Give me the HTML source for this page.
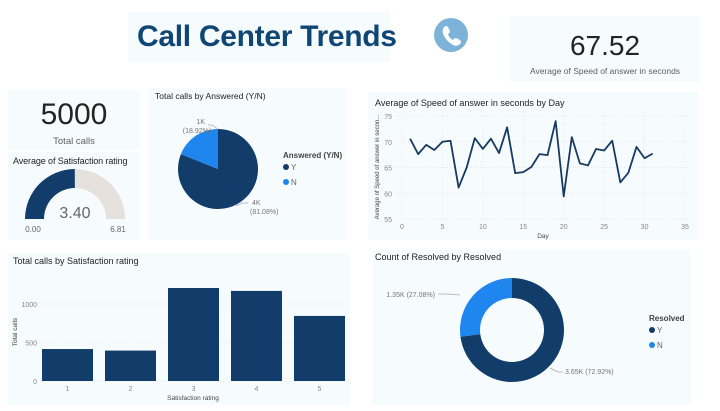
<!DOCTYPE html>
<html><head><meta charset="utf-8"><style>
body{margin:0;width:720px;height:411px;background:#fff;font-family:"Liberation Sans",sans-serif;overflow:hidden;position:relative}
.p{position:absolute;background:#f6fbfd}
.t{position:absolute;font-size:9px;color:#252423;white-space:nowrap}
svg{position:absolute;left:0;top:0}
</style></head><body>
<div class="p" style="left:128px;top:12px;width:262px;height:50px"></div>
<div style="position:absolute;left:137px;top:20px;font-size:30px;font-weight:bold;color:#0f4675;white-space:nowrap;letter-spacing:-0.3px">Call Center Trends</div>
<div class="p" style="left:510px;top:16px;width:190px;height:66px"></div>
<div style="position:absolute;left:510px;width:190px;top:30px;text-align:center;font-size:28px;color:#252423">67.52</div>
<div style="position:absolute;left:510px;width:190px;top:66px;text-align:center;font-size:8.5px;color:#605e5c">Average of Speed of answer in seconds</div>
<div class="p" style="left:8px;top:90px;width:132px;height:60px"></div>
<div style="position:absolute;left:8px;width:132px;top:98px;text-align:center;font-size:30px;color:#252423">5000</div>
<div style="position:absolute;left:8px;width:132px;top:136px;text-align:center;font-size:9.5px;color:#605e5c">Total calls</div>
<div class="p" style="left:8px;top:152px;width:132px;height:88px"></div>
<div class="t" style="left:13px;top:156px;font-size:9px;letter-spacing:-0.1px">Average of Satisfaction rating</div>
<div class="p" style="left:148px;top:88px;width:198px;height:152px"></div>
<div class="t" style="left:155px;top:91px;font-size:8.5px">Total calls by Answered (Y/N)</div>
<div class="p" style="left:368px;top:92px;width:330px;height:148px"></div>
<div class="t" style="left:375px;top:98px">Average of Speed of answer in seconds by Day</div>
<div class="p" style="left:8px;top:253px;width:342px;height:152px"></div>
<div class="t" style="left:13px;top:256px">Total calls by Satisfaction rating</div>
<div class="p" style="left:373px;top:250px;width:318px;height:155px"></div>
<div class="t" style="left:375px;top:252px">Count of Resolved by Resolved</div>
<svg id="s" width="720" height="411" font-family="Liberation Sans, sans-serif"></svg>
<script>
const days=[1,2,3,4,5,6,7,8,9,10,11,12,13,14,15,16,17,18,19,20,21,22,23,24,25,26,27,28,29,30,31];
const speed=[70.6,67.6,69.4,68.4,70,70.2,61.1,65,70.7,68.6,70.6,67.8,72.8,63.9,64.1,65.1,67.6,67.4,74,59.4,70.9,65.8,65.4,68.6,68.3,70.2,62.1,64,69,66.8,67.7];
const xTicks=[0,5,10,15,20,25,30,35];
const yTicks=[55,60,65,70,75];
const ratings=["1","2","3","4","5"];
const ratingCalls=[415,395,1208,1170,845];
const barTicks=[0,500,1000];
const answeredLabels=["Y","N"];
const answeredVals=[4054,946];
const resolvedLabels=["Y","N"];
const resolvedVals=[3646,1354];
const gaugeVal=3.40, gaugeMax=6.81;
const S=document.getElementById('s'),NS='http://www.w3.org/2000/svg';
function mk(tag,a,txt){const e=document.createElementNS(NS,tag);for(const k in a)e.setAttribute(k,a[k]);if(txt!==undefined)e.textContent=txt;S.appendChild(e);return e;}
const dark='#123c69',light='#1f86f0';
let c=mk('circle',{cx:451,cy:35,r:17,fill:'#7db2d9'});


let ph=mk('path',{d:'M444,27 q2,-2 4,0 l2,4 q0,2 -2,3 q1,4 5,6 q1,-2 3,-2 l4,2 q2,2 0,4 q-3,3 -7,1 q-7,-4 -10,-11 q-1,-4 1,-7z',fill:'#fff'});


function arcPath(cx,cy,R,r,a0,a1){const p=(rad,a)=>[cx+rad*Math.cos(a),cy-rad*Math.sin(a)];const [x0,y0]=p(R,a0),[x1,y1]=p(R,a1),[x2,y2]=p(r,a1),[x3,y3]=p(r,a0);const lg=Math.abs(a1-a0)>Math.PI?1:0;const sw=a1<a0?1:0;return `M${x0},${y0}A${R},${R} 0 ${lg} ${sw} ${x1},${y1}L${x2},${y2}A${r},${r} 0 ${lg} ${1-sw} ${x3},${y3}Z`;}
const gcx=75,gcy=219,gR=50,gr=31;
const ga=Math.PI-Math.PI*gaugeVal/gaugeMax;
let g1=mk('path',{d:arcPath(gcx,gcy,gR,gr,Math.PI,ga),fill:dark});


let g2=mk('path',{d:arcPath(gcx,gcy,gR,gr,ga,0),fill:'#e6e1dc'});


let gt=mk('text',{x:gcx,y:218,'text-anchor':'middle','font-size':16,fill:'#666'},gaugeVal.toFixed(2));


let gmin=mk('text',{x:33,y:232,'text-anchor':'middle','font-size':8,fill:'#666'},'0.00');


let gmax=mk('text',{x:118,y:232,'text-anchor':'middle','font-size':8,fill:'#666'},gaugeMax.toFixed(2));


function pie(cx,cy,R,r,labels,vals,cols,name){const tot=vals.reduce((a,b)=>a+b,0);let a=Math.PI/2;vals.forEach((v,i)=>{const sweep=2*Math.PI*v/tot;const a1=a-sweep;let d;if(r===0){const p0=[cx+R*Math.cos(a),cy-R*Math.sin(a)],p1=[cx+R*Math.cos(a1),cy-R*Math.sin(a1)];d=`M${cx},${cy}L${p0}A${R},${R} 0 ${sweep>Math.PI?1:0} 1 ${p1}Z`;}else d=arcPath(cx,cy,R,r,a,a1);const e=mk('path',{d:d,fill:cols[i]});a=a1;});return tot;}
const ptot=pie(218,169,40,0,answeredLabels,answeredVals,[dark,light],'answered');
const small={'font-size':7,fill:'#777'};
mk('path',{d:'M218,129 L212,125 L208,125',fill:'none',stroke:'#aaa','stroke-width':0.7});
mk('text',Object.assign({x:205,y:124,'text-anchor':'end'},small),(answeredVals[1]/1000).toFixed(0)+'K');
mk('text',Object.assign({x:197,y:133,'text-anchor':'middle'},small),'('+(answeredVals[1]/ptot*100).toFixed(2)+'%)');
mk('path',{d:'M236,206 L242,203 L248,203',fill:'none',stroke:'#aaa','stroke-width':0.7});
mk('text',Object.assign({x:252,y:205},small),(answeredVals[0]/1000).toFixed(0)+'K');
mk('text',Object.assign({x:250,y:214},small),'('+(answeredVals[0]/ptot*100).toFixed(2)+'%)');
function legend(x,y,title,labels,cols,nm){const t=mk('text',{x:x,y:y,'font-size':8,'font-weight':'bold',fill:'#444'},title);labels.forEach((l,i)=>{mk('circle',{cx:x+3,cy:y+12+i*15-3,r:3,fill:cols[i]});const e=mk('text',{x:x+8,y:y+12+i*15,'font-size':8,fill:'#666'},l);});}
legend(283,158,'Answered (Y/N)',answeredLabels,[dark,light],'answered');
const dtot=pie(512,330,52,32,resolvedLabels,resolvedVals,[dark,light],'resolved');
mk('path',{d:'M460,295 L448,294 L438,294',fill:'none',stroke:'#aaa','stroke-width':0.7});
mk('text',Object.assign({x:435,y:297,'text-anchor':'end'},small),(resolvedVals[1]/1000).toFixed(2)+'K ('+(resolvedVals[1]/dtot*100).toFixed(2)+'%)');
mk('path',{d:'M550,368 L558,372 L563,372',fill:'none',stroke:'#aaa','stroke-width':0.7});
mk('text',Object.assign({x:565,y:374},small),(resolvedVals[0]/1000).toFixed(2)+'K ('+(resolvedVals[0]/dtot*100).toFixed(2)+'%)');
legend(649,321,'Resolved',resolvedLabels,[dark,light],'resolved');
const lx=d=>402+d*(685-402)/35, ly=v=>219-(v-55)*(219-116)/20;
yTicks.forEach(v=>{mk('line',{x1:396,x2:690,y1:ly(v),y2:ly(v),stroke:'#e4e8ea','stroke-dasharray':'1,2'});mk('text',{x:392,y:ly(v)+3,'text-anchor':'end','font-size':7,fill:'#888'},v);});
xTicks.forEach(v=>{mk('line',{x1:lx(v),x2:lx(v),y1:116,y2:219,stroke:'#e4e8ea','stroke-dasharray':'1,2'});mk('text',{x:lx(v),y:229,'text-anchor':'middle','font-size':7,fill:'#888'},v);});
let pl=mk('polyline',{points:days.map((d,i)=>lx(d)+','+ly(speed[i])).join(' '),fill:'none',stroke:'#173a63','stroke-width':1.8,'stroke-linejoin':'round'});


mk('text',{x:543,y:238,'text-anchor':'middle','font-size':6.5,fill:'#444'},'Day');
mk('text',{x:379,y:167,'text-anchor':'middle','font-size':6,fill:'#444',transform:'rotate(-90 379 167)'},'Average of Speed of answer in secon...');
const by=v=>381-v*(381-304)/1000, bw=51, bx=i=>42+i*63;
barTicks.forEach(v=>{mk('line',{x1:40,x2:346,y1:by(v),y2:by(v),stroke:'#e4e8ea','stroke-dasharray':'1,2'});mk('text',{x:37,y:by(v)+3,'text-anchor':'end','font-size':7,fill:'#888'},v);});
ratings.forEach((r,i)=>{const b=mk('rect',{x:bx(i),y:by(ratingCalls[i]),width:bw,height:by(0)-by(ratingCalls[i]),fill:'#123c69'});mk('text',{x:bx(i)+bw/2,y:391,'text-anchor':'middle','font-size':7,fill:'#888'},r);});
mk('text',{x:193,y:400,'text-anchor':'middle','font-size':6.5,fill:'#444'},'Satisfaction rating');
mk('text',{x:17,y:332,'text-anchor':'middle','font-size':6.5,fill:'#444',transform:'rotate(-90 17 332)'},'Total calls');
</script>
</body></html>
